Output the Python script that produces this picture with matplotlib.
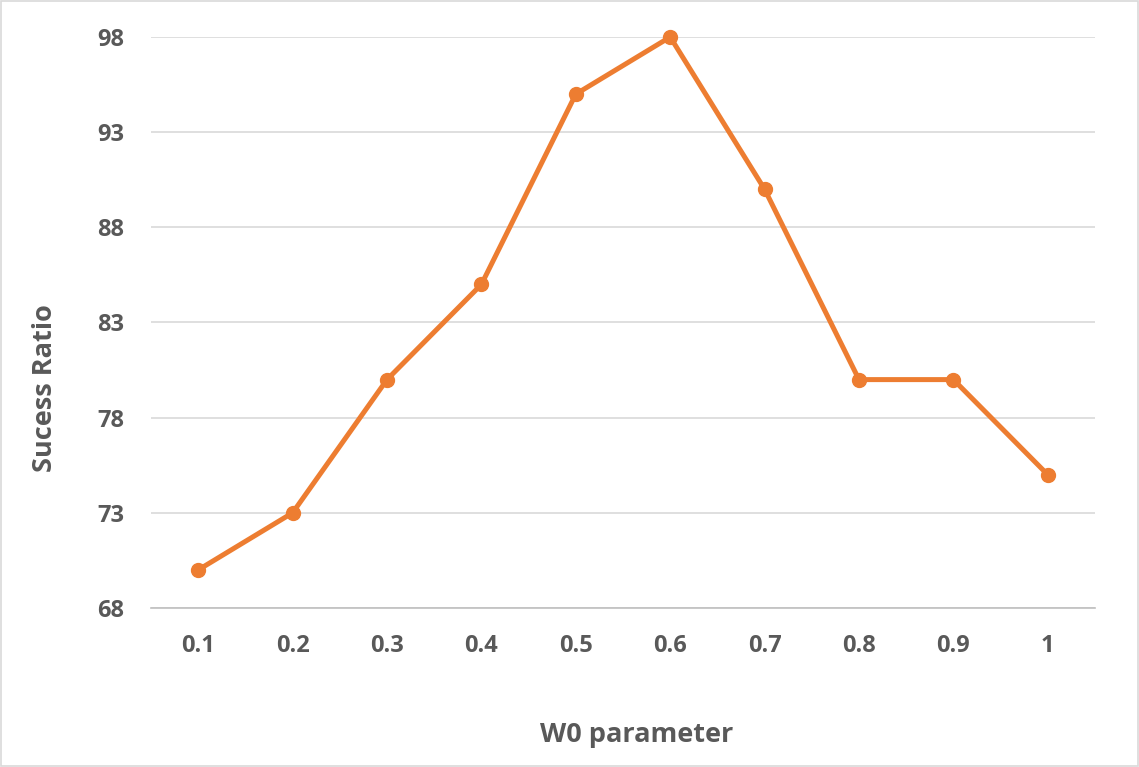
import matplotlib
matplotlib.use("Agg")
import matplotlib.pyplot as plt
from matplotlib.patches import Rectangle

categories = ["0.1", "0.2", "0.3", "0.4", "0.5", "0.6", "0.7", "0.8", "0.9", "1"]
success = [70, 73, 80, 85, 95, 98, 90, 80, 80, 75]
yticks = [68, 73, 78, 83, 88, 93, 98]

plt.rcParams["font.family"] = ["Open Sans", "DejaVu Sans"]
plt.rcParams["font.weight"] = "bold"

W, H = 1139, 767
fig = plt.figure(figsize=(W / 100, H / 100), dpi=100)
ax = fig.add_axes([151 / W, 1 - 608 / H, (1095 - 151) / W, (608 - 37) / H])

x = list(range(len(categories)))
ax.plot(x, success, color="#ED7D31", lw=3.6, marker="o", ms=10,
        markerfacecolor="#ED7D31", markeredgecolor="#ED7D31", zorder=3,
        solid_capstyle="round", solid_joinstyle="round", clip_on=False)

ax.set_xlim(-0.5, len(categories) - 0.5)
ax.set_ylim(68, 98)
ax.set_yticks(yticks)
ax.set_xticks(x)
ax.set_xticklabels(categories)
ax.grid(axis="y", color="#D9D9D9", lw=1.2)
ax.set_axisbelow(True)
for s in ["top", "right", "left"]:
    ax.spines[s].set_visible(False)
ax.spines["bottom"].set_color("#BFBFBF")
ax.spines["bottom"].set_linewidth(1.2)
ax.tick_params(length=0, colors="#595959", labelsize=17)
ax.tick_params(axis="y", pad=19)
ax.tick_params(axis="x", pad=19)

fig.text(45 / W, 1 - 388 / H, "Sucess Ratio", rotation=90, ha="center", va="center",
         fontsize=19.5, fontweight="bold", color="#595959")
fig.text(637 / W, 1 - 735 / H, "W0 parameter", ha="center", va="center",
         fontsize=19.5, fontweight="bold", color="#595959")

fig.patches.append(Rectangle((1 / W, 1 / H), 1 - 2 / W, 1 - 2 / H, transform=fig.transFigure,
                             fill=False, edgecolor="#D9D9D9", lw=1.2))

fig.savefig("out.png", dpi=100)
